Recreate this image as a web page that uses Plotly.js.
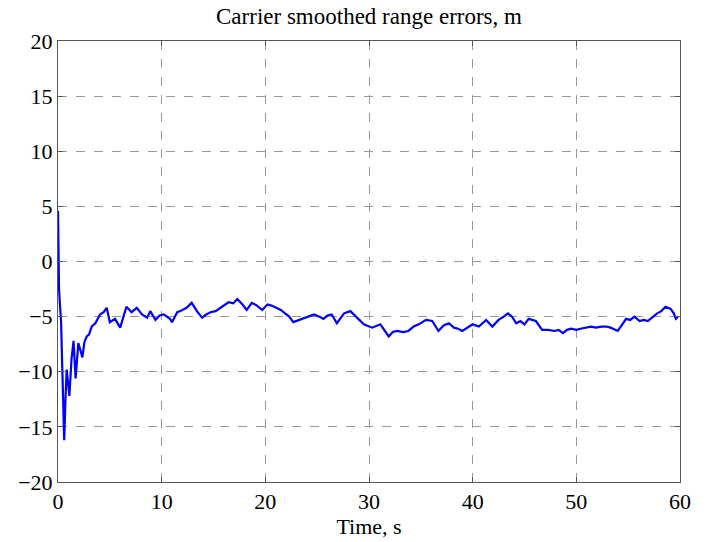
<!DOCTYPE html>
<html>
<head>
<meta charset="utf-8">
<script src="https://cdn.plot.ly/plotly-3.0.1.min.js"></script>
<style>body{margin:0;background:#fff;}#chart{width:720px;height:542px;}</style>
</head>
<body>
<div id="chart"></div>
<script>
const timeS = [0.0, 0.03, 0.1, 0.2, 0.3, 0.4, 0.5, 0.6, 0.72, 0.84, 0.97, 1.1, 1.3, 1.5, 1.7, 1.96, 2.15, 2.35, 2.55, 2.77, 3.0, 3.25, 3.6, 4.06, 4.4, 4.7, 5.0, 5.5, 6.0, 6.6, 7.1, 7.6, 8.1, 8.6, 8.9, 9.4, 9.8, 10.2, 10.8, 11.0, 11.5, 11.8, 12.4, 12.9, 13.4, 13.9, 14.3, 14.7, 15.2, 15.65, 16.0, 16.45, 16.9, 17.3, 17.8, 18.2, 18.7, 19.2, 19.7, 20.2, 20.6, 21.0, 21.5, 21.9, 22.3, 22.7, 23.3, 24.0, 24.7, 25.2, 25.6, 26.0, 26.4, 26.9, 27.6, 28.2, 28.9, 29.5, 30.3, 31.1, 31.9, 32.3, 32.7, 33.3, 33.8, 34.3, 34.8, 35.5, 36.1, 36.7, 37.2, 37.7, 38.2, 38.6, 39.0, 39.5, 40.0, 40.6, 41.3, 41.9, 42.5, 43.0, 43.4, 43.8, 44.2, 44.6, 45.0, 45.4, 46.1, 46.7, 47.3, 47.9, 48.3, 48.7, 49.1, 49.5, 50.0, 50.4, 50.9, 51.4, 51.9, 52.4, 52.9, 53.3, 54.0, 54.4, 54.8, 55.2, 55.6, 56.1, 56.5, 56.9, 57.3, 57.8, 58.2, 58.6, 59.1, 59.4, 59.6, 59.8];
const rangeErr = [4.6, 1.0, -2.5, -4.1, -5.5, -9.2, -13.7, -16.2, -12.5, -9.8, -11.0, -12.2, -8.9, -7.2, -10.6, -7.4, -8.0, -8.7, -7.3, -6.8, -6.6, -5.9, -5.6, -4.8, -4.6, -4.2, -5.5, -5.2, -6.0, -4.1, -4.6, -4.2, -4.8, -5.1, -4.5, -5.3, -4.9, -4.8, -5.2, -5.5, -4.6, -4.5, -4.2, -3.75, -4.5, -5.1, -4.8, -4.6, -4.5, -4.2, -4.0, -3.7, -3.8, -3.4, -3.9, -4.4, -3.75, -4.0, -4.4, -3.9, -4.0, -4.2, -4.4, -4.7, -5.0, -5.5, -5.3, -5.1, -4.8, -5.0, -5.2, -4.9, -4.8, -5.6, -4.7, -4.5, -5.1, -5.7, -6.0, -5.7, -6.8, -6.4, -6.3, -6.4, -6.3, -5.9, -5.7, -5.3, -5.4, -6.3, -5.8, -5.6, -6.0, -6.1, -6.3, -6.0, -5.7, -5.9, -5.3, -5.9, -5.3, -5.0, -4.7, -5.0, -5.6, -5.4, -5.7, -5.2, -5.4, -6.2, -6.2, -6.3, -6.2, -6.5, -6.2, -6.1, -6.2, -6.1, -6.0, -5.9, -6.0, -5.9, -5.9, -6.0, -6.3, -5.8, -5.2, -5.3, -5.0, -5.4, -5.3, -5.4, -5.1, -4.7, -4.5, -4.1, -4.3, -4.7, -5.2, -5.0];
const xTicks = [0, 10, 20, 30, 40, 50, 60];
const yTicks = [-20, -15, -10, -5, 0, 5, 10, 15, 20];
const titleText = 'Carrier smoothed range errors, m';
const xTitle = 'Time, s';

const serif = 'Liberation Serif, Times New Roman, serif';
const axisCommon = {
  showline: true, mirror: 'ticks', linecolor: '#555', linewidth: 1,
  ticks: 'inside', ticklen: 5, tickcolor: '#555',
  showgrid: true, gridcolor: '#999', griddash: 'dash', gridwidth: 1,
  zeroline: false,
  tickfont: {family: serif, size: 22, color: '#000'}
};

Plotly.newPlot('chart', [{
  x: timeS, y: rangeErr, type: 'scatter', mode: 'lines',
  line: {color: '#0000ff', width: 2.2}
}], {
  width: 720, height: 542,
  margin: {l: 58, r: 40, t: 41, b: 60},
  paper_bgcolor: '#fff', plot_bgcolor: '#fff',
  showlegend: false,
  title: {text: titleText, x: 0.5, xref: 'paper', y: 1 - 16 / 542, yref: 'container', yanchor: 'middle',
    font: {family: serif, size: 23, color: '#000'}},
  xaxis: Object.assign({}, axisCommon, {range: [0, 60], tickvals: xTicks, ticklabelstandoff: 0,
    title: {text: xTitle, standoff: 0, font: {family: serif, size: 22, color: '#000'}}}),
  yaxis: Object.assign({}, axisCommon, {range: [-20, 20], tickvals: yTicks, ticklabelstandoff: 0,
    ticktext: yTicks.map(v => v < 0 ? '\u2212' + Math.abs(v) : String(v))})
}, {staticPlot: true});
</script>
</body>
</html>
